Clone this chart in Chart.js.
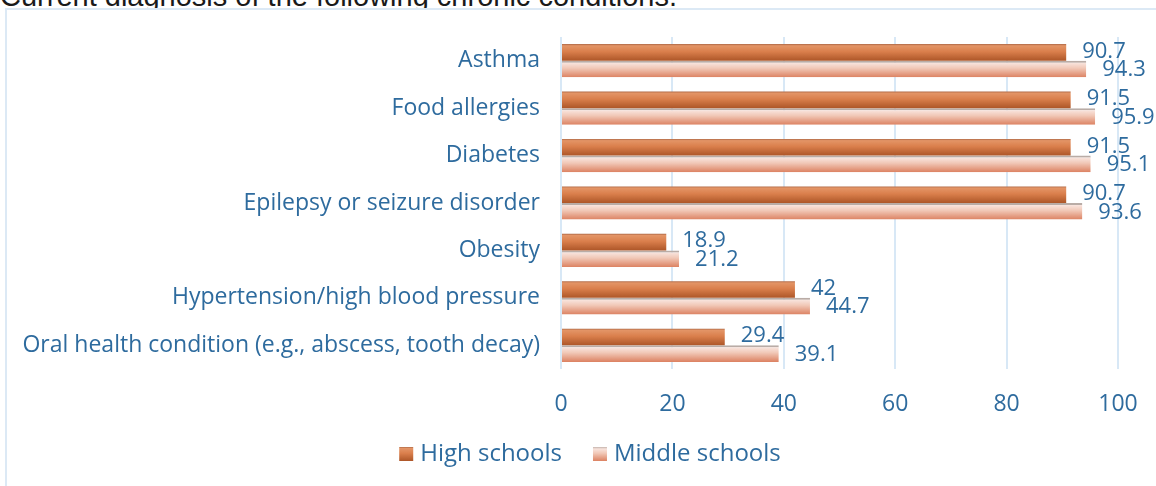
<!DOCTYPE html>
<html>
<head>
<meta charset="utf-8">
<script src="https://cdn.jsdelivr.net/npm/chart.js@4/dist/chart.umd.min.js"></script>
<style>
  html, body { margin: 0; padding: 0; background: #fff; overflow: hidden; width: 1156px; height: 486px; }
  #title {
    position: absolute; left: 0; top: -18px; white-space: nowrap;
    font: 29px "Liberation Sans", Arial, sans-serif; line-height: 29px; color: #1a1a1a;
  }
  #frame {
    position: absolute; left: 5px; top: 8px; width: 1166px; height: 486px;
    border: 2px solid #dce9f5; background: #fff;
  }
</style>
</head>
<body>
<div id="title">Current diagnosis of the following chronic conditions.</div>
<div id="frame"><canvas id="healthChart" width="1166" height="486"></canvas></div>
<script>
//#region DATA
const conditions = [
  "Asthma",
  "Food allergies",
  "Diabetes",
  "Epilepsy or seizure disorder",
  "Obesity",
  "Hypertension/high blood pressure",
  "Oral health condition (e.g., abscess, tooth decay)",
];
const highSchools = [90.7, 91.5, 91.5, 90.7, 18.9, 42, 29.4];
const middleSchools = [94.3, 95.9, 95.1, 93.6, 21.2, 44.7, 39.1];
const xTicks = [0, 20, 40, 60, 80, 100];
//#endregion

const TEXT = "#2e6b9e";
const FONT = "'Open Sans', sans-serif";
const CAT_PCT = 0.7;
const LEGEND_FONT = 24;

const highStops = [[0, "#b06a47"], [0.1, "#e39466"], [0.45, "#da7f4c"], [1, "#ad5628"]];
const middleStops = [[0, "#c4b3ac"], [0.14, "#f8e3dc"], [0.45, "#f1c8b7"], [1, "#dc8262"]];

// vertical gradient for each bar, placed with the y scale
function barFill(stops, solid) {
  return function (c) {
    const chart = c.chart;
    const y = chart.scales && chart.scales.y;
    if (!chart.chartArea || c.dataIndex === undefined || !y) return solid;
    const step = Math.abs(y.getPixelForValue(1) - y.getPixelForValue(0));
    const chunk = (step * CAT_PCT) / 2;
    const top = y.getPixelForValue(c.dataIndex) - chunk + chunk * c.datasetIndex;
    const g = chart.ctx.createLinearGradient(0, top, 0, top + chunk);
    stops.forEach((s) => g.addColorStop(s[0], s[1]));
    return g;
  };
}

//#region PLUGINS
const valueLabels = {
  id: "valueLabels",
  afterDatasetsDraw(chart) {
    const ctx = chart.ctx;
    ctx.save();
    ctx.font = "22px " + FONT;
    ctx.fillStyle = TEXT;
    ctx.textAlign = "left";
    ctx.textBaseline = "middle";
    chart.data.datasets.forEach((ds, i) => {
      chart.getDatasetMeta(i).data.forEach((bar, j) => {
        ctx.fillText(String(ds.data[j]), bar.x + 16, bar.y + (i === 0 ? -1 : 1));
      });
    });
    ctx.restore();
  },
};

// repaint legend boxes as 14px gradient squares
const legendBoxes = {
  id: "legendBoxes",
  afterDraw(chart) {
    const lg = chart.legend;
    if (!lg || !lg.legendHitBoxes) return;
    const ctx = chart.ctx;
    const size = 14;
    lg.legendHitBoxes.forEach((hb, i) => {
      const top = hb.top + Math.max((LEGEND_FONT - size) / 2, 0);
      const g = ctx.createLinearGradient(0, top, 0, top + size);
      const stops = i === 0 ? highStops : middleStops;
      stops.forEach((s) => g.addColorStop(s[0], s[1]));
      ctx.fillStyle = "#fff";
      ctx.fillRect(hb.left - 1, top - 1, size + 2, size + 2);
      ctx.fillStyle = g;
      ctx.fillRect(hb.left, top, size, size);
    });
  },
};
//#endregion

//#region RENDER
const ctx = document.getElementById("healthChart").getContext("2d");
const healthChart = new Chart(ctx, {
  type: "bar",
  data: {
    labels: conditions,
    datasets: [
      {
        label: "High schools",
        data: highSchools,
        backgroundColor: barFill(highStops, "#cf7446"),
        borderWidth: 0,
        categoryPercentage: CAT_PCT,
        barPercentage: 1,
      },
      {
        label: "Middle schools",
        data: middleSchools,
        backgroundColor: barFill(middleStops, "#eebaa6"),
        borderColor: "#b9aca6",
        borderWidth: { top: 2, right: 0, bottom: 0, left: 0 },
        borderSkipped: false,
        categoryPercentage: CAT_PCT,
        barPercentage: 1,
      },
    ],
  },
  options: {
    indexAxis: "y",
    responsive: false,
    animation: false,
    layout: {
      padding: { left: 8, right: 8, top: 27, bottom: 20 },
    },
    scales: {
      x: {
        min: 0,
        max: 100,
        afterBuildTicks: (scale) => {
          scale.ticks = xTicks.map((v) => ({ value: v }));
        },
        afterFit: (scale) => {
          scale.height = 42;
        },
        grid: { color: "#d8e8f6", lineWidth: 2, drawTicks: false },
        border: { display: false },
        ticks: { color: TEXT, font: { family: FONT, size: 23 }, padding: 22 },
      },
      y: {
        afterFit: (scale) => {
          scale.width = 546;
        },
        grid: { display: false },
        border: { display: false },
        ticks: { color: TEXT, font: { family: FONT, size: 23 }, padding: 13 },
      },
      // empty right-hand axis: keeps room for the value labels
      yRight: {
        type: "category",
        position: "right",
        afterFit: (scale) => {
          scale.width = 47;
        },
        grid: { display: false },
        border: { display: false },
        ticks: { display: false },
      },
    },
    plugins: {
      legend: {
        position: "bottom",
        labels: {
          color: TEXT,
          font: { family: FONT, size: LEGEND_FONT },
          boxWidth: 9,
          boxHeight: 14,
          padding: 31,
        },
      },
      tooltip: { enabled: false },
    },
  },
  plugins: [valueLabels, legendBoxes],
});
//#endregion
</script>
</body>
</html>
